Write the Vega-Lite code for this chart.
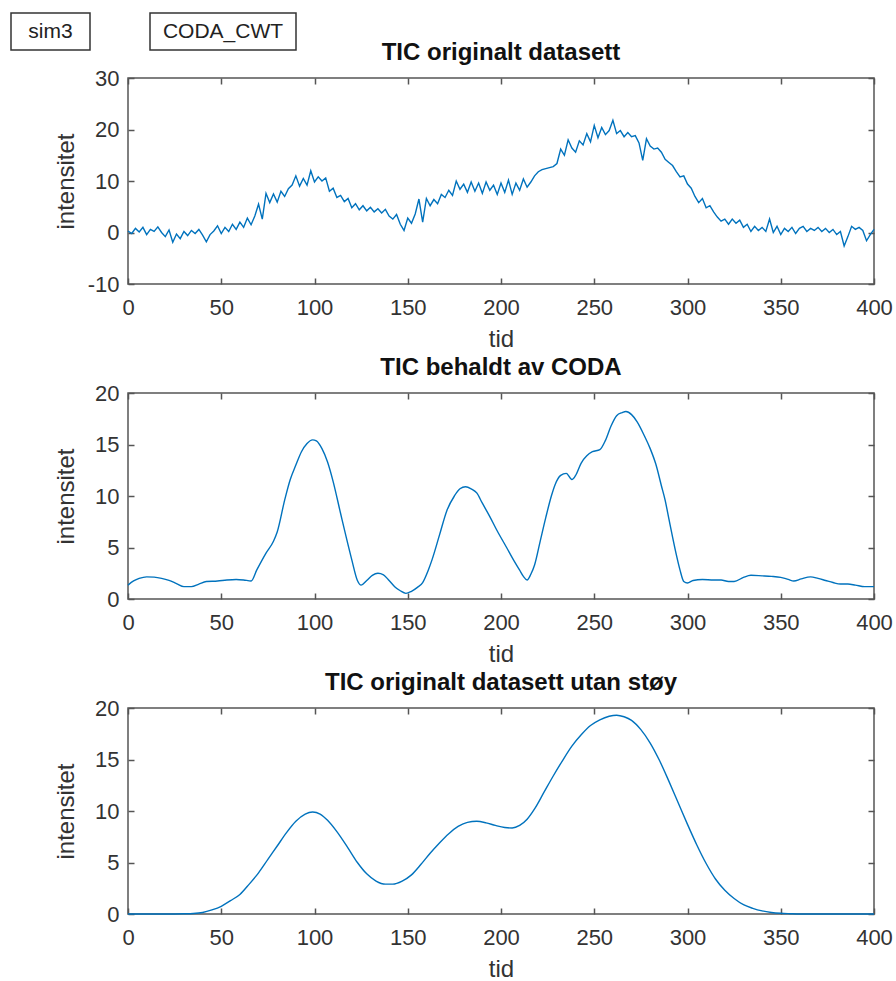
{
  "$schema": "https://vega.github.io/schema/vega-lite/v6.json",
  "background": "white",
  "padding": {"left": 10, "top": 12, "right": 0, "bottom": 0},
  "spacing": -11,
  "vconcat": [
    {
      "spacing": 58,
      "hconcat": [
        {"width": 79, "height": 37, "view": {"stroke": "#333", "strokeWidth": 1.5},
         "data": {"values": [{"label": "sim3"}]},
         "mark": {"type": "text", "fontSize": 21, "color": "#222", "align": "center", "baseline": "middle"},
         "encoding": {"text": {"field": "label"}}},
        {"width": 146, "height": 37, "view": {"stroke": "#333", "strokeWidth": 1.5},
         "data": {"values": [{"label": "CODA_CWT"}]},
         "mark": {"type": "text", "fontSize": 21, "color": "#222", "align": "center", "baseline": "middle"},
         "encoding": {"text": {"field": "label"}}}
      ]
    },
    {
      "spacing": 41,
      "hconcat": [
        {"width": 1, "height": 1, "view": {"stroke": null},
         "data": {"values": [{"label": ""}]},
         "mark": {"type": "text"},
         "encoding": {"text": {"field": "label"}}},
        {
          "spacing": 3,
          "vconcat": [
            {
              "width": 746, "height": 206,
              "title": "TIC originalt datasett",
              "data": {"name": "orig"},
              "layer": [
                {"mark": {"type": "line", "color": "#0072BD", "strokeWidth": 1.4},
                 "encoding": {
                   "x": {"field": "tid", "type": "quantitative", "scale": {"domain": [0, 400]},
                         "axis": {"title": "tid", "values": [0, 50, 100, 150, 200, 250, 300, 350, 400], "tickSize": -6, "labelPadding": 19, "titlePadding": 9}},
                   "y": {"field": "intensitet", "type": "quantitative", "scale": {"domain": [-10, 30]},
                         "axis": {"title": "intensitet", "values": [-10, 0, 10, 20, 30], "labelExpr": "'' + datum.value", "tickSize": -6, "labelPadding": 15, "minExtent": 41, "maxExtent": 41, "titlePadding": 9}}}},
                {"mark": {"type": "line", "opacity": 0},
                 "encoding": {
                   "x": {"field": "tid", "type": "quantitative", "axis": {"orient": "top", "title": null, "labels": false, "values": [0, 50, 100, 150, 200, 250, 300, 350, 400], "tickSize": -6}},
                   "y": {"field": "intensitet", "type": "quantitative", "axis": {"orient": "right", "title": null, "labels": false, "values": [-10, 0, 10, 20, 30], "tickSize": -6, "minExtent": 0}}}}
              ],
              "resolve": {"axis": {"x": "independent", "y": "independent"}}
            },
            {
              "width": 746, "height": 206,
              "title": "TIC behaldt av CODA",
              "data": {"name": "coda"},
              "layer": [
                {"mark": {"type": "line", "color": "#0072BD", "strokeWidth": 1.4, "interpolate": "monotone"},
                 "encoding": {
                   "x": {"field": "tid", "type": "quantitative", "scale": {"domain": [0, 400]},
                         "axis": {"title": "tid", "values": [0, 50, 100, 150, 200, 250, 300, 350, 400], "tickSize": -6, "labelPadding": 19, "titlePadding": 9}},
                   "y": {"field": "intensitet", "type": "quantitative", "scale": {"domain": [0, 20]},
                         "axis": {"title": "intensitet", "values": [0, 5, 10, 15, 20], "tickSize": -6, "labelPadding": 15, "minExtent": 41, "maxExtent": 41, "titlePadding": 9}}}},
                {"mark": {"type": "line", "opacity": 0},
                 "encoding": {
                   "x": {"field": "tid", "type": "quantitative", "axis": {"orient": "top", "title": null, "labels": false, "values": [0, 50, 100, 150, 200, 250, 300, 350, 400], "tickSize": -6}},
                   "y": {"field": "intensitet", "type": "quantitative", "axis": {"orient": "right", "title": null, "labels": false, "values": [0, 5, 10, 15, 20], "tickSize": -6, "minExtent": 0}}}}
              ],
              "resolve": {"axis": {"x": "independent", "y": "independent"}}
            },
            {
              "width": 746, "height": 206,
              "title": "TIC originalt datasett utan støy",
              "data": {"name": "clean"},
              "layer": [
                {"mark": {"type": "line", "color": "#0072BD", "strokeWidth": 1.4, "interpolate": "monotone"},
                 "encoding": {
                   "x": {"field": "tid", "type": "quantitative", "scale": {"domain": [0, 400]},
                         "axis": {"title": "tid", "values": [0, 50, 100, 150, 200, 250, 300, 350, 400], "tickSize": -6, "labelPadding": 19, "titlePadding": 9}},
                   "y": {"field": "intensitet", "type": "quantitative", "scale": {"domain": [0, 20]},
                         "axis": {"title": "intensitet", "values": [0, 5, 10, 15, 20], "tickSize": -6, "labelPadding": 15, "minExtent": 41, "maxExtent": 41, "titlePadding": 9}}}},
                {"mark": {"type": "line", "opacity": 0},
                 "encoding": {
                   "x": {"field": "tid", "type": "quantitative", "axis": {"orient": "top", "title": null, "labels": false, "values": [0, 50, 100, 150, 200, 250, 300, 350, 400], "tickSize": -6}},
                   "y": {"field": "intensitet", "type": "quantitative", "axis": {"orient": "right", "title": null, "labels": false, "values": [0, 5, 10, 15, 20], "tickSize": -6, "minExtent": 0}}}}
              ],
              "resolve": {"axis": {"x": "independent", "y": "independent"}}
            }
          ]
        }
      ]
    }
  ],
  "datasets": {
    "orig": [
      {"tid":0,"intensitet":0.3},{"tid":2,"intensitet":-0.2},{"tid":4,"intensitet":0.8},{"tid":6,"intensitet":0.1},{"tid":8,"intensitet":1.0},{"tid":10,"intensitet":-0.4},{"tid":12,"intensitet":0.6},{"tid":14,"intensitet":0.2},{"tid":16,"intensitet":1.1},{"tid":18,"intensitet":0.0},
      {"tid":20,"intensitet":-0.8},{"tid":22,"intensitet":0.5},{"tid":24,"intensitet":-1.9},{"tid":26,"intensitet":-0.3},{"tid":28,"intensitet":-1.2},{"tid":30,"intensitet":0.2},{"tid":32,"intensitet":-0.6},{"tid":34,"intensitet":0.4},{"tid":36,"intensitet":-0.2},{"tid":38,"intensitet":0.6},
      {"tid":40,"intensitet":-0.5},{"tid":42,"intensitet":-1.8},{"tid":44,"intensitet":-0.4},{"tid":46,"intensitet":0.3},{"tid":48,"intensitet":1.3},{"tid":50,"intensitet":-0.2},{"tid":52,"intensitet":1.0},{"tid":54,"intensitet":0.2},{"tid":56,"intensitet":1.6},{"tid":58,"intensitet":0.6},
      {"tid":60,"intensitet":2.0},{"tid":62,"intensitet":1.0},{"tid":64,"intensitet":2.8},{"tid":66,"intensitet":1.5},{"tid":68,"intensitet":3.2},{"tid":70,"intensitet":5.5},{"tid":72,"intensitet":2.6},{"tid":74,"intensitet":7.6},{"tid":76,"intensitet":5.8},{"tid":78,"intensitet":7.5},
      {"tid":80,"intensitet":5.9},{"tid":82,"intensitet":8.0},{"tid":84,"intensitet":7.0},{"tid":86,"intensitet":8.5},{"tid":88,"intensitet":9.2},{"tid":90,"intensitet":11.0},{"tid":92,"intensitet":9.0},{"tid":94,"intensitet":10.5},{"tid":96,"intensitet":9.2},{"tid":98,"intensitet":12.0},
      {"tid":100,"intensitet":9.8},{"tid":102,"intensitet":10.8},{"tid":104,"intensitet":10.0},{"tid":106,"intensitet":10.6},{"tid":108,"intensitet":8.0},{"tid":110,"intensitet":8.6},{"tid":112,"intensitet":6.8},{"tid":114,"intensitet":7.2},{"tid":116,"intensitet":6.0},{"tid":118,"intensitet":6.6},
      {"tid":120,"intensitet":4.8},{"tid":122,"intensitet":5.6},{"tid":124,"intensitet":4.4},{"tid":126,"intensitet":5.2},{"tid":128,"intensitet":4.2},{"tid":130,"intensitet":4.9},{"tid":132,"intensitet":4.0},{"tid":134,"intensitet":4.6},{"tid":136,"intensitet":3.8},{"tid":138,"intensitet":4.5},
      {"tid":140,"intensitet":3.2},{"tid":142,"intensitet":2.6},{"tid":144,"intensitet":3.5},{"tid":146,"intensitet":1.6},{"tid":148,"intensitet":0.4},{"tid":150,"intensitet":2.8},{"tid":152,"intensitet":1.8},{"tid":154,"intensitet":3.6},{"tid":156,"intensitet":6.5},{"tid":158,"intensitet":2.0},
      {"tid":160,"intensitet":6.6},{"tid":162,"intensitet":5.2},{"tid":164,"intensitet":6.4},{"tid":166,"intensitet":5.6},{"tid":168,"intensitet":7.4},{"tid":170,"intensitet":6.8},{"tid":172,"intensitet":8.2},{"tid":174,"intensitet":7.2},{"tid":176,"intensitet":10.0},{"tid":178,"intensitet":8.4},
      {"tid":180,"intensitet":9.4},{"tid":182,"intensitet":7.8},{"tid":184,"intensitet":9.8},{"tid":186,"intensitet":8.0},{"tid":188,"intensitet":9.6},{"tid":190,"intensitet":7.6},{"tid":192,"intensitet":9.8},{"tid":194,"intensitet":8.2},{"tid":196,"intensitet":9.2},{"tid":198,"intensitet":7.4},
      {"tid":200,"intensitet":9.6},{"tid":202,"intensitet":7.8},{"tid":204,"intensitet":10.2},{"tid":206,"intensitet":7.4},{"tid":208,"intensitet":9.6},{"tid":210,"intensitet":8.2},{"tid":212,"intensitet":10.4},{"tid":214,"intensitet":8.8},{"tid":216,"intensitet":9.8},{"tid":218,"intensitet":11.0},
      {"tid":220,"intensitet":11.8},{"tid":222,"intensitet":12.2},{"tid":224,"intensitet":12.4},{"tid":226,"intensitet":12.6},{"tid":228,"intensitet":12.8},{"tid":230,"intensitet":13.4},{"tid":232,"intensitet":16.2},{"tid":234,"intensitet":15.0},{"tid":236,"intensitet":18.0},{"tid":238,"intensitet":16.4},
      {"tid":240,"intensitet":15.6},{"tid":242,"intensitet":17.8},{"tid":244,"intensitet":17.0},{"tid":246,"intensitet":19.2},{"tid":248,"intensitet":17.6},{"tid":250,"intensitet":20.8},{"tid":252,"intensitet":18.4},{"tid":254,"intensitet":20.4},{"tid":256,"intensitet":19.0},{"tid":258,"intensitet":19.8},
      {"tid":260,"intensitet":21.8},{"tid":262,"intensitet":19.2},{"tid":264,"intensitet":19.8},{"tid":266,"intensitet":18.6},{"tid":268,"intensitet":19.4},{"tid":270,"intensitet":18.6},{"tid":272,"intensitet":18.8},{"tid":274,"intensitet":17.4},{"tid":276,"intensitet":14.0},{"tid":278,"intensitet":18.2},
      {"tid":280,"intensitet":16.8},{"tid":282,"intensitet":16.2},{"tid":284,"intensitet":16.4},{"tid":286,"intensitet":15.6},{"tid":288,"intensitet":14.2},{"tid":290,"intensitet":13.6},{"tid":292,"intensitet":13.0},{"tid":294,"intensitet":11.8},{"tid":296,"intensitet":10.8},{"tid":298,"intensitet":11.0},
      {"tid":300,"intensitet":9.4},{"tid":302,"intensitet":8.6},{"tid":304,"intensitet":7.0},{"tid":306,"intensitet":5.8},{"tid":308,"intensitet":6.6},{"tid":310,"intensitet":4.8},{"tid":312,"intensitet":5.2},{"tid":314,"intensitet":4.0},{"tid":316,"intensitet":3.0},{"tid":318,"intensitet":2.2},
      {"tid":320,"intensitet":2.6},{"tid":322,"intensitet":1.6},{"tid":324,"intensitet":2.6},{"tid":326,"intensitet":1.8},{"tid":328,"intensitet":2.4},{"tid":330,"intensitet":1.0},{"tid":332,"intensitet":1.6},{"tid":334,"intensitet":0.2},{"tid":336,"intensitet":1.2},{"tid":338,"intensitet":0.4},
      {"tid":340,"intensitet":1.0},{"tid":342,"intensitet":0.2},{"tid":344,"intensitet":2.6},{"tid":346,"intensitet":0.0},{"tid":348,"intensitet":1.2},{"tid":350,"intensitet":-0.4},{"tid":352,"intensitet":0.8},{"tid":354,"intensitet":0.2},{"tid":356,"intensitet":1.0},{"tid":358,"intensitet":-0.2},
      {"tid":360,"intensitet":0.8},{"tid":362,"intensitet":1.2},{"tid":364,"intensitet":0.2},{"tid":366,"intensitet":0.8},{"tid":368,"intensitet":0.4},{"tid":370,"intensitet":1.0},{"tid":372,"intensitet":0.2},{"tid":374,"intensitet":0.8},{"tid":376,"intensitet":0.0},{"tid":378,"intensitet":0.6},
      {"tid":380,"intensitet":-0.4},{"tid":382,"intensitet":0.2},{"tid":384,"intensitet":-2.6},{"tid":386,"intensitet":-0.8},{"tid":388,"intensitet":1.2},{"tid":390,"intensitet":0.6},{"tid":392,"intensitet":1.0},{"tid":394,"intensitet":0.4},{"tid":396,"intensitet":-1.6},{"tid":398,"intensitet":-0.4},
      {"tid":400,"intensitet":0.6}
    ],
    "coda": [
      {"tid":0,"intensitet":1.35},{"tid":3,"intensitet":1.75},{"tid":6,"intensitet":2.0},{"tid":10,"intensitet":2.15},{"tid":14,"intensitet":2.12},{"tid":18,"intensitet":2.0},{"tid":22,"intensitet":1.8},{"tid":26,"intensitet":1.5},{"tid":30,"intensitet":1.2},{"tid":34,"intensitet":1.2},
      {"tid":38,"intensitet":1.45},{"tid":42,"intensitet":1.7},{"tid":48,"intensitet":1.75},{"tid":53,"intensitet":1.85},{"tid":58,"intensitet":1.9},{"tid":62,"intensitet":1.85},{"tid":66,"intensitet":1.75},{"tid":69,"intensitet":2.8},{"tid":74,"intensitet":4.45},{"tid":78,"intensitet":5.6},
      {"tid":80,"intensitet":6.5},{"tid":84,"intensitet":9.6},{"tid":87,"intensitet":11.6},{"tid":90,"intensitet":13.0},{"tid":93,"intensitet":14.3},{"tid":96,"intensitet":15.1},{"tid":99,"intensitet":15.45},{"tid":101,"intensitet":15.35},{"tid":104,"intensitet":14.6},{"tid":107,"intensitet":13.3},
      {"tid":110,"intensitet":11.4},{"tid":114,"intensitet":8.3},{"tid":117,"intensitet":6.0},{"tid":120,"intensitet":3.8},{"tid":123,"intensitet":1.8},{"tid":125,"intensitet":1.35},{"tid":128,"intensitet":1.8},{"tid":131,"intensitet":2.3},{"tid":134,"intensitet":2.5},{"tid":137,"intensitet":2.35},
      {"tid":140,"intensitet":1.8},{"tid":143,"intensitet":1.2},{"tid":146,"intensitet":0.8},{"tid":149,"intensitet":0.55},{"tid":152,"intensitet":0.75},{"tid":155,"intensitet":1.1},{"tid":158,"intensitet":1.6},{"tid":161,"intensitet":2.8},{"tid":163,"intensitet":3.8},{"tid":167,"intensitet":6.2},
      {"tid":171,"intensitet":8.6},{"tid":175,"intensitet":10.0},{"tid":178,"intensitet":10.7},{"tid":181,"intensitet":10.9},{"tid":184,"intensitet":10.7},{"tid":187,"intensitet":10.3},{"tid":190,"intensitet":9.3},{"tid":194,"intensitet":8.0},{"tid":198,"intensitet":6.6},{"tid":203,"intensitet":5.0},
      {"tid":207,"intensitet":3.7},{"tid":210,"intensitet":2.8},{"tid":212,"intensitet":2.2},{"tid":214,"intensitet":1.85},{"tid":216,"intensitet":2.4},{"tid":218,"intensitet":3.3},{"tid":221,"intensitet":5.6},{"tid":224,"intensitet":7.9},{"tid":227,"intensitet":10.0},{"tid":229,"intensitet":11.1},
      {"tid":232,"intensitet":12.0},{"tid":235,"intensitet":12.2},{"tid":238,"intensitet":11.6},{"tid":240,"intensitet":12.0},{"tid":243,"intensitet":13.2},{"tid":246,"intensitet":13.9},{"tid":249,"intensitet":14.3},{"tid":253,"intensitet":14.5},{"tid":256,"intensitet":15.4},{"tid":259,"intensitet":16.8},
      {"tid":262,"intensitet":17.8},{"tid":265,"intensitet":18.1},{"tid":267,"intensitet":18.2},{"tid":270,"intensitet":17.9},{"tid":273,"intensitet":17.2},{"tid":277,"intensitet":15.8},{"tid":280,"intensitet":14.6},{"tid":283,"intensitet":13.1},{"tid":286,"intensitet":11.0},{"tid":288,"intensitet":9.6},
      {"tid":290,"intensitet":7.8},{"tid":292,"intensitet":6.0},{"tid":294,"intensitet":4.3},{"tid":296,"intensitet":2.8},{"tid":298,"intensitet":1.7},{"tid":300,"intensitet":1.55},{"tid":303,"intensitet":1.8},{"tid":308,"intensitet":1.9},{"tid":314,"intensitet":1.85},{"tid":318,"intensitet":1.85},
      {"tid":322,"intensitet":1.7},{"tid":325,"intensitet":1.7},{"tid":330,"intensitet":2.1},{"tid":334,"intensitet":2.3},{"tid":340,"intensitet":2.25},{"tid":345,"intensitet":2.2},{"tid":350,"intensitet":2.1},{"tid":354,"intensitet":1.9},{"tid":357,"intensitet":1.75},{"tid":361,"intensitet":1.95},
      {"tid":366,"intensitet":2.15},{"tid":370,"intensitet":2.0},{"tid":374,"intensitet":1.8},{"tid":378,"intensitet":1.6},{"tid":382,"intensitet":1.45},{"tid":386,"intensitet":1.45},{"tid":390,"intensitet":1.35},{"tid":395,"intensitet":1.2},{"tid":400,"intensitet":1.2}
    ],
    "clean": [
      {"tid":0,"intensitet":0},{"tid":10,"intensitet":0},{"tid":20,"intensitet":0},{"tid":30,"intensitet":0.02},{"tid":35,"intensitet":0.05},{"tid":40,"intensitet":0.15},{"tid":45,"intensitet":0.4},{"tid":50,"intensitet":0.75},{"tid":55,"intensitet":1.3},{"tid":60,"intensitet":1.9},
      {"tid":65,"intensitet":2.9},{"tid":70,"intensitet":4.0},{"tid":75,"intensitet":5.3},{"tid":80,"intensitet":6.6},{"tid":85,"intensitet":7.9},{"tid":90,"intensitet":9.0},{"tid":95,"intensitet":9.7},{"tid":99,"intensitet":9.9},{"tid":103,"intensitet":9.7},{"tid":107,"intensitet":9.1},
      {"tid":112,"intensitet":8.0},{"tid":118,"intensitet":6.4},{"tid":123,"intensitet":5.0},{"tid":128,"intensitet":3.9},{"tid":133,"intensitet":3.2},{"tid":138,"intensitet":2.9},{"tid":142,"intensitet":2.9},{"tid":147,"intensitet":3.2},{"tid":152,"intensitet":3.8},{"tid":157,"intensitet":4.8},
      {"tid":162,"intensitet":5.9},{"tid":167,"intensitet":6.9},{"tid":172,"intensitet":7.8},{"tid":177,"intensitet":8.5},{"tid":182,"intensitet":8.9},{"tid":187,"intensitet":9.0},{"tid":192,"intensitet":8.85},{"tid":197,"intensitet":8.6},{"tid":202,"intensitet":8.4},{"tid":206,"intensitet":8.35},
      {"tid":210,"intensitet":8.6},{"tid":214,"intensitet":9.2},{"tid":218,"intensitet":10.2},{"tid":223,"intensitet":11.8},{"tid":228,"intensitet":13.4},{"tid":233,"intensitet":14.9},{"tid":238,"intensitet":16.3},{"tid":243,"intensitet":17.4},{"tid":248,"intensitet":18.3},{"tid":253,"intensitet":18.85},
      {"tid":258,"intensitet":19.2},{"tid":262,"intensitet":19.3},{"tid":266,"intensitet":19.15},{"tid":270,"intensitet":18.8},{"tid":275,"intensitet":17.9},{"tid":280,"intensitet":16.6},{"tid":285,"intensitet":14.9},{"tid":290,"intensitet":12.9},{"tid":295,"intensitet":10.8},{"tid":300,"intensitet":8.7},
      {"tid":305,"intensitet":6.7},{"tid":310,"intensitet":4.9},{"tid":315,"intensitet":3.4},{"tid":320,"intensitet":2.3},{"tid":325,"intensitet":1.5},{"tid":330,"intensitet":0.9},{"tid":335,"intensitet":0.55},{"tid":340,"intensitet":0.3},{"tid":345,"intensitet":0.15},{"tid":350,"intensitet":0.07},
      {"tid":355,"intensitet":0.03},{"tid":360,"intensitet":0},{"tid":380,"intensitet":0},{"tid":400,"intensitet":0}
    ]
  },
  "config": {
    "font": "Liberation Sans",
    "view": {"stroke": "#555", "strokeWidth": 1.5},
    "axis": {
      "labelFont": "Liberation Sans", "labelFontSize": 22, "labelColor": "#333",
      "titleFont": "Liberation Sans", "titleFontSize": 24, "titleFontWeight": "normal", "titleColor": "#333",
      "tickColor": "#555", "tickWidth": 1.5, "grid": false, "domain": false,
      "labelFlush": false, "labelOverlap": false
    },
    "title": {"font": "Liberation Sans", "fontSize": 24, "fontWeight": "bold", "color": "#111", "offset": 2}
  }
}
